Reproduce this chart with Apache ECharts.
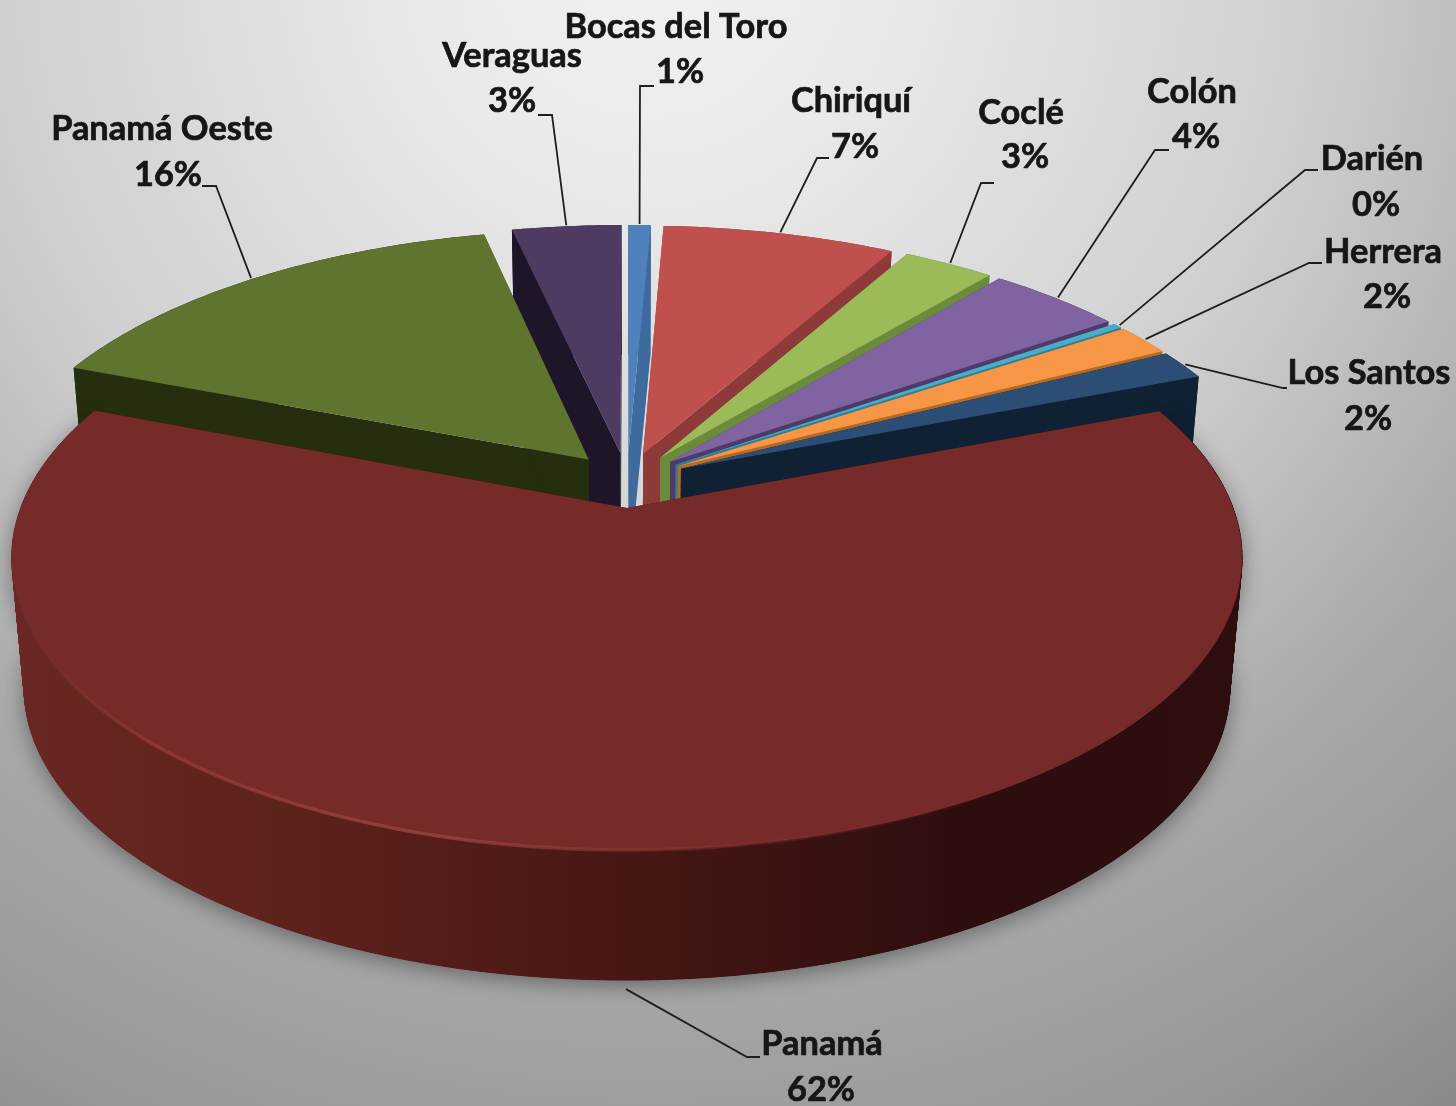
<!DOCTYPE html>
<html><head><meta charset="utf-8">
<style>html,body{margin:0;padding:0;background:#bbb;overflow:hidden}#c{width:1456px;height:1106px;filter:blur(0.7px)}</style>
<script src="https://cdn.jsdelivr.net/npm/echarts@6/dist/echarts.min.js"></script>
</head><body><div id="c"></div>
<script>
// ---- data (clockwise from 12 o'clock) ----
const categories = ['Bocas del Toro','Chiriquí','Coclé','Colón','Darién','Herrera','Los Santos','Panamá','Panamá Oeste','Veraguas'];
const shares = [0.72,7.4,2.9,4.3,0.3,1.8,1.7,61.8,15.6,3.48];
// ---- styles ----
const topColors  = ['#4F81BD','#C0504D','#9BBB59','#8064A2','#4BACC6','#F79646','#2C4D75','#772A2A','#5F752F','#4D3B62'];
const sideColors = ['#3E6A9E','#8E3A38','#6C8A3C','#4E3A6B','#2E7F94','#B56A22','#0F2132','#4A1816','#262E10','#1F1528'];
// ---- layout: label line centres [name x,y, percent x,y], leader knee [x,y], leader end [x,y] ----
const labelCentres = [[676,27,680,72],[851,101,855,147],[1021,113,1025,157],[1192,92,1196,137],[1372,159,1376,205],[1383,252,1387,297],[1369,373,1368,419],[822,1044,821,1090],[162,129,168,175],[512,56,512,101]];
const leaderKnees = [[640,86],[817,158],[981,183],[1155,150],[1305,170],[1309,263],[1283,388],[747,1057],[216,186],[552,115]];
const leaderEnds = [[654,86],[829,158],[994,183],[1169,150],[1318,170],[1322,263],[1287,388],[760,1057],[202,186],[538,115]];
// ---- projection of the tilted disc ----
const CX=627, CY=480, P=274.5, Q=596, K=0.1673, E=0.1, WALL=130, SHRINK=0.98;
const total = shares.reduce((a,b)=>a+b,0);
const spans = []; let acc=0;
shares.forEach(v=>{const a0=acc/total*2*Math.PI; acc+=v; spans.push([a0,acc/total*2*Math.PI]);});
const midAngle = i => (spans[i][0]+spans[i][1])/2;
function proj(X,Y){const d=1+K*Y; return [CX+Q*X/d, CY-P*Y/d];}
function base(X,Y){const t=proj(X,Y); return [CX+(t[0]-CX)*SHRINK, t[1]+WALL];}
function plane(i,a,r){const m=midAngle(i); return [E*Math.sin(m)+r*Math.sin(a), E*Math.cos(m)+r*Math.cos(a)];}
function arc(i,fn){const s=spans[i],n=Math.max(2,Math.ceil((s[1]-s[0])/0.012)),o=[];
  for(let j=0;j<=n;j++){const p=plane(i,s[0]+(s[1]-s[0])*j/n,1);o.push(fn(p[0],p[1]));} return o;}
// paint order: back of the disc first
const order = categories.map((_,i)=>i).sort((a,b)=>Math.cos(midAngle(b))-Math.cos(midAngle(a)));
const LABEL_FONT='bold 34.4px Lato, "Open Sans", sans-serif', TXT='#161616';

function renderItem(params){
  const i=params.dataIndex, rank=order.indexOf(i)*10+10;
  const apex=plane(i,0,0), A=proj(apex[0],apex[1]), B=base(apex[0],apex[1]);
  const rimT=arc(i,proj), rimB=arc(i,base);
  const isMain=(shares[i]===Math.max(...shares));
  const side = isMain ? {type:'linear',x:15,y:0,x2:1240,y2:0,global:true,colorStops:[
      {offset:0,color:'#6A2723'},{offset:.25,color:'#5C211C'},{offset:.5,color:'#471715'},{offset:.78,color:'#2D0E0D'},{offset:1,color:'#2E0E0E'}]} : sideColors[i];
  const kids=[];
  const wallStyle={fill:side};
  if(isMain){wallStyle.shadowBlur=22;wallStyle.shadowColor='rgba(0,0,0,.4)';wallStyle.shadowOffsetY=5;}
  kids.push({type:'polygon',z2:rank,shape:{points:rimT.concat(rimB.slice().reverse())},style:wallStyle});
  if(isMain){ // sweep between rim and base, so the silhouette stays straight at the sides
    for(let k=0;k<rimT.length-1;k+=1){
      kids.push({type:'polygon',z2:rank,shape:{points:[rimT[k],rimT[k+1],rimB[k+1],rimB[k]]},style:{fill:side,stroke:side,lineWidth:1}});
    }
  }
  const F=rimT[0],L=rimT[rimT.length-1],FB=rimB[0],LB=rimB[rimB.length-1];
  kids.push({type:'polygon',z2:rank+1,shape:{points:[A,F,FB,B]},style:{fill:sideColors[i]}});
  kids.push({type:'polygon',z2:rank+2,shape:{points:[A,L,LB,B]},style:{fill:sideColors[i]}});
  kids.push({type:'polygon',z2:rank+3,shape:{points:[A].concat(rimT)},style:{fill:topColors[i]}});
  if(isMain){
    const lit=rimT.filter(p=>p[1]>600 && p[0]<1050).reverse();
    kids.push({type:'polyline',z2:rank+4,shape:{points:lit},style:{fill:'none',lineWidth:3.5,
      stroke:{type:'linear',x:30,y:0,x2:1050,y2:0,global:true,colorStops:[
        {offset:0,color:'rgba(140,55,52,0)'},{offset:.12,color:'rgba(145,58,55,.8)'},{offset:.4,color:'rgba(155,68,66,.8)'},{offset:.65,color:'rgba(140,55,52,.45)'},{offset:1,color:'rgba(120,42,42,0)'}]}}});
  }
  // leader from the middle of the slice's outer edge
  const m=midAngle(i), p=plane(i,m,1.005);
  const start=isMain?(()=>{const b=base(p[0],p[1]);return [b[0],b[1]+7];})():proj(p[0],p[1]);
  kids.push({type:'polyline',z2:500,shape:{points:[start,leaderKnees[i],leaderEnds[i]]},style:{fill:'none',stroke:'#1f1f1f',lineWidth:1.8}});
  const c=labelCentres[i];
  const ts={align:'center',verticalAlign:'middle',font:LABEL_FONT,fill:TXT,stroke:TXT,lineWidth:0.7};
  kids.push({type:'text',z2:510,style:Object.assign({text:categories[i],x:c[0],y:c[1]},ts)});
  kids.push({type:'text',z2:510,style:Object.assign({text:Math.round(shares[i]/total*100)+'%',x:c[2],y:c[3]},ts)});
  return {type:'group',children:kids};
}
const chart=echarts.init(document.getElementById('c'),null,{renderer:'canvas',width:1456,height:1106});
chart.setOption({
  animation:false,
  backgroundColor:{type:'radial',x:650,y:-40,r:1400,global:true,colorStops:[{offset:0,color:'#F1F1F1'},{offset:.157,color:'#EAEAEA'},{offset:.46,color:'#D0D0D0'},{offset:.53,color:'#C6C6C6'},{offset:.71,color:'#A9A9A9'},{offset:.81,color:'#9F9F9F'},{offset:.885,color:'#999999'},{offset:1,color:'#898989'}]},
  series:[{type:'custom',coordinateSystem:'none',renderItem,silent:true,
    data:categories.map((n,i)=>({name:n,value:shares[i]}))}]
});
</script></body></html>
